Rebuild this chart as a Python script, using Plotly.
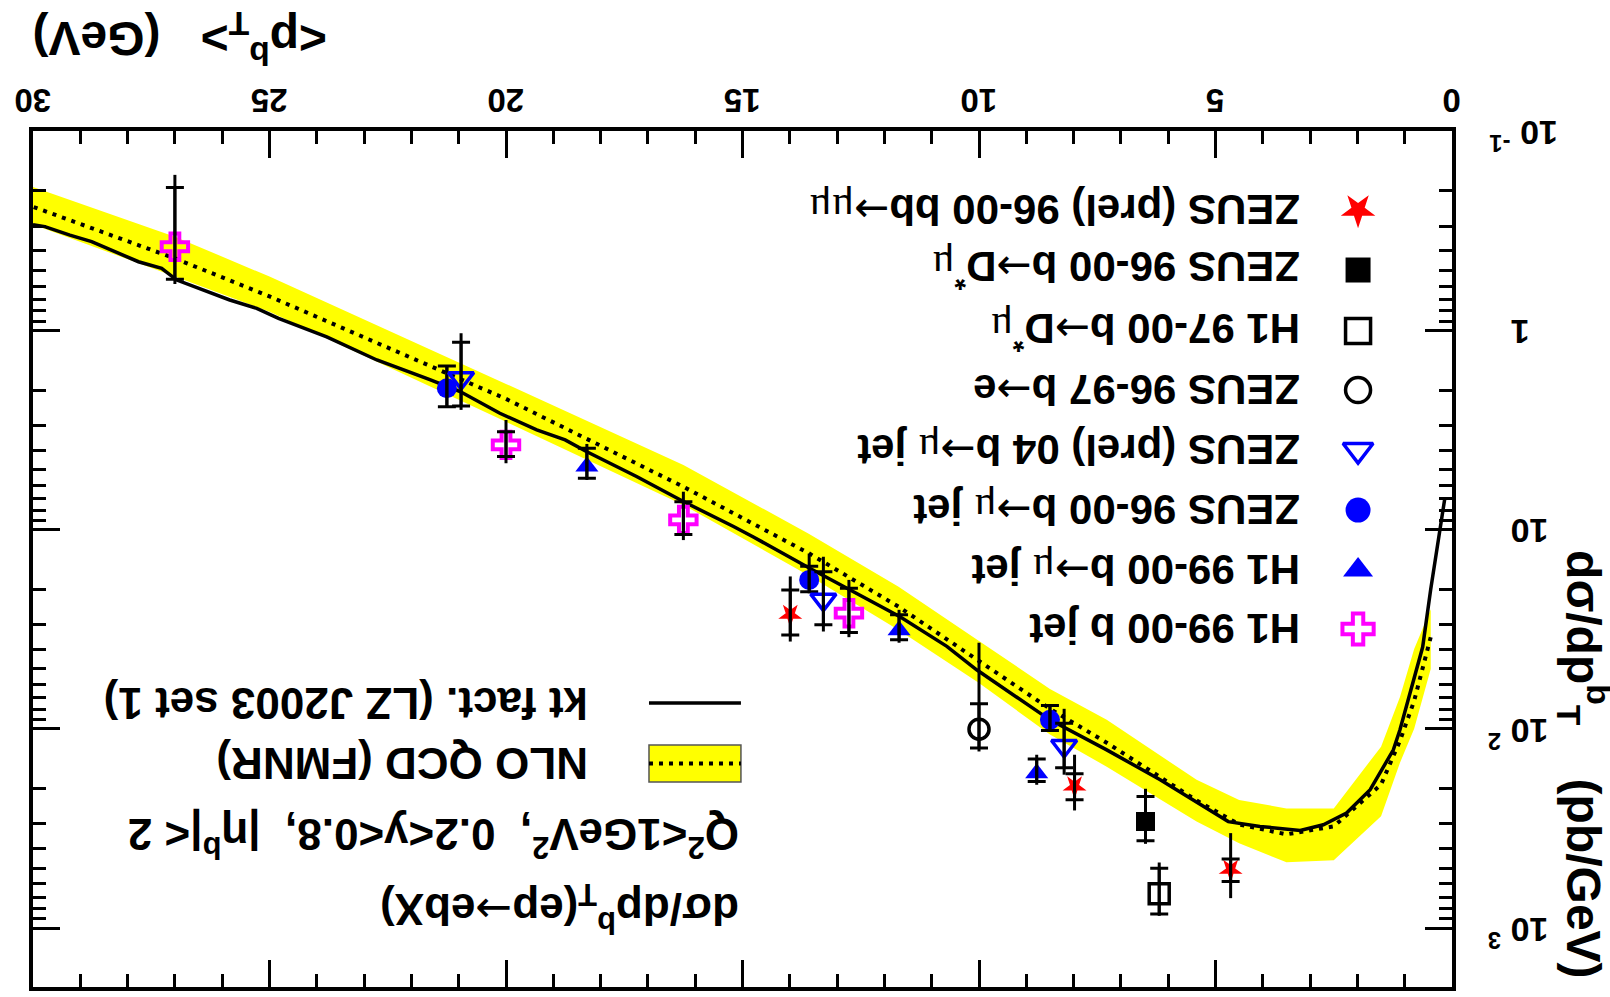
import plotly.graph_objects as go

# ---------------- data ----------------
# kt factorisation (LZ J2003 set 1) curve
kt_pt = [0.15, 0.45, 0.62, 1.1, 1.24, 1.73, 2.23, 2.72, 3.21, 4.06, 4.73, 6.17, 7.30, 8.50,
         10.05, 10.68, 11.67, 12.73, 13.57, 14.77, 15.19, 16.25, 17.24, 18.30, 18.75, 19.35,
         20.13, 20.97, 21.61, 22.73, 23.79, 24.81, 25.27, 25.84, 26.96, 27.28, 27.77, 28.76,
         29.22, 29.75, 30.0]
kt_val = [6.92, 19.95, 38.9, 101.2, 127.6, 202.3, 264.9, 303.4, 323.6, 309.0, 292.4, 180.3,
          127.6, 90.2, 50.6, 38.6, 27.4, 20.1, 15.7, 10.9, 9.66, 7.24, 5.42, 4.06, 3.55, 3.16,
          2.61, 2.03, 1.77, 1.41, 1.08, 0.871, 0.776, 0.705, 0.560, 0.489, 0.453, 0.359,
          0.333, 0.302, 0.295]

# NLO QCD (FMNR) central + uncertainty band
nlo_pt = [0.45, 0.8, 1.1, 1.5, 2.5, 3.5, 4.5, 5.4, 7.3, 8.5, 10.0, 11.7, 13.6, 16.25, 20.0,
          25.0, 27.0, 30.0]
nlo_c = [34.7, 72.4, 114.8, 190.5, 309, 338.8, 302, 229, 117.5, 79.4, 45.7, 24.4, 13.15,
         6.10, 2.21, 0.676, 0.436, 0.240]
nlo_lo = [25.1, 39.8, 69.2, 123, 251, 251, 227.5, 180.3, 90.2, 63.1, 36.3, 19.4, 10.5,
          4.74, 1.86, 0.538, 0.339, 0.191]
nlo_hi = [50.1, 100, 147.9, 275, 457, 468, 375, 292.4, 155, 107, 58.9, 31.9, 17.0,
          7.53, 2.88, 0.807, 0.537, 0.295]

# measurements: pT, value, stat low/high, total low/high
h1_bjet_pt = [27.0, 20.0, 16.25, 12.75]
h1_bjet_y = [0.381, 3.76, 8.95, 26.3]
h1_bjet_slo = [0.192, 3.23, 7.25, 19.7]
h1_bjet_shi = [0.554, 4.30, 10.6, 32.9]
h1_bjet_tlo = [0.166, 2.82, 6.46, 17.9]
h1_bjet_thi = [0.586, 4.65, 11.3, 34.7]

h1_mujet_pt = [18.29, 11.69, 8.78]
h1_mujet_y = [4.83, 32.0, 167]
h1_mujet_slo = [3.91, 26.8, 142]
h1_mujet_shi = [5.53, 35.8, 184]
h1_mujet_tlo = [3.72, 25.3, 135]
h1_mujet_thi = [5.64, 37.0, 191]

zeus_mujet_pt = [21.25, 13.59, 8.50]
zeus_mujet_y = [1.955, 17.9, 90.2]
zeus_mujet_slo = [1.51, 15.3, 76.4]
zeus_mujet_shi = [2.42, 20.5, 102]
zeus_mujet_tlo = [1.51, 13.2, 76.4]
zeus_mujet_thi = [2.42, 20.9, 102]

zeus04_pt = [20.95, 13.29, 8.20]
zeus04_y = [1.74, 22.5, 122]
zeus04_slo = [1.148, 16.3, 93.8]
zeus04_shi = [2.40, 30.1, 157]
zeus04_tlo = [1.035, 13.7, 79.4]
zeus04_thi = [2.51, 32.5, 170]

zeus_e_pt = [10.0]
zeus_e_y = [100.5]
zeus_e_slo = [75]
zeus_e_shi = [125]
zeus_e_tlo = [37]
zeus_e_thi = [130]

zeus_mumu_pt = [13.99, 7.98, 4.68]
zeus_mumu_y = [26.8, 195, 511]
zeus_mumu_slo = [20.1, 168, 451]
zeus_mumu_shi = [33.8, 227, 584]
zeus_mumu_tlo = [17.2, 135, 334]
zeus_mumu_thi = [36.5, 257, 708]

zeus_dst_pt = [6.48]
zeus_dst_y = [292]
zeus_dst_slo = [219]
zeus_dst_shi = [365]
zeus_dst_tlo = [200]
zeus_dst_thi = [378]

h1_dst_pt = [6.19]
h1_dst_y = [673]
h1_dst_slo = [501]
h1_dst_shi = [851]
h1_dst_tlo = [469]
h1_dst_thi = [869]

x_ticks = [0, 5, 10, 15, 20, 25, 30]
x_ticktext = ["&nbsp;0", "&nbsp;5", "10", "15", "20", "25", "30"]
y_ticks = [0.1, 1, 10, 100, 1000]
y_ticktext = ["10&nbsp;<sup>-1</sup>", "&nbsp;&nbsp;&nbsp;1", "&nbsp;10",
              "&nbsp;10&nbsp;<sup>2</sup>", "&nbsp;10&nbsp;<sup>3</sup>"]

MU = "<span style='font-family:Liberation Serif;font-weight:normal'>μ</span>"
ARR = "<span style='font-family:DejaVu Sans;font-weight:normal'>→</span>"
legend_labels = [
    "<b>ZEUS (prel) 96-00 bb</b>" + ARR + MU + MU,
    "<b>ZEUS 96-00 b</b>" + ARR + "<b>D<sup>*</sup></b>" + MU,
    "<b>H1 97-00 b</b>" + ARR + "<b>D<sup>*</sup></b>" + MU,
    "<b>ZEUS 96-97 b</b>" + ARR + "<b>e</b>",
    "<b>ZEUS (prel) 04 b</b>" + ARR + MU + " <b>jet</b>",
    "<b>ZEUS 96-00 b</b>" + ARR + MU + " <b>jet</b>",
    "<b>H1 99-00 b</b>" + ARR + MU + " <b>jet</b>",
    "<b>H1 99-00 b jet</b>",
]

# ---------------- figure ----------------
FONT = "Liberation Sans, Arial, Helvetica, sans-serif"
fig = go.Figure()

# NLO band
fig.add_trace(go.Scatter(x=nlo_pt, y=nlo_lo, mode="lines", line=dict(width=0),
                         hoverinfo="skip", showlegend=False))
fig.add_trace(go.Scatter(x=nlo_pt, y=nlo_hi, mode="lines", line=dict(width=0),
                         fill="tonexty", fillcolor="#ffff00", showlegend=False))
# NLO central dotted
fig.add_trace(go.Scatter(x=nlo_pt, y=nlo_c, mode="lines",
                         line=dict(color="black", width=4, dash="4px,6px"), showlegend=False))
# kt fact. solid
fig.add_trace(go.Scatter(x=kt_pt, y=kt_val, mode="lines",
                         line=dict(color="black", width=3.5), showlegend=False))

datasets = [
    (h1_bjet_pt, h1_bjet_y, h1_bjet_slo, h1_bjet_shi, h1_bjet_tlo, h1_bjet_thi,
     dict(symbol="cross-open", color="#ff00ff", size=22, line=dict(color="#ff00ff", width=4))),
    (h1_mujet_pt, h1_mujet_y, h1_mujet_slo, h1_mujet_shi, h1_mujet_tlo, h1_mujet_thi,
     dict(symbol="triangle-up", color="#0000ff", size=20, line=dict(width=0))),
    (zeus_mujet_pt, zeus_mujet_y, zeus_mujet_slo, zeus_mujet_shi, zeus_mujet_tlo, zeus_mujet_thi,
     dict(symbol="circle", color="#0000ff", size=20, line=dict(width=0))),
    (zeus04_pt, zeus04_y, zeus04_slo, zeus04_shi, zeus04_tlo, zeus04_thi,
     dict(symbol="triangle-down-open", color="#0000ff", size=22, line=dict(color="#0000ff", width=3.5))),
    (zeus_e_pt, zeus_e_y, zeus_e_slo, zeus_e_shi, zeus_e_tlo, zeus_e_thi,
     dict(symbol="circle-open", color="black", size=20, line=dict(color="black", width=3.5))),
    (zeus_mumu_pt, zeus_mumu_y, zeus_mumu_slo, zeus_mumu_shi, zeus_mumu_tlo, zeus_mumu_thi,
     dict(symbol="star", angle=180, color="#ff0000", size=18, line=dict(width=0))),
    (zeus_dst_pt, zeus_dst_y, zeus_dst_slo, zeus_dst_shi, zeus_dst_tlo, zeus_dst_thi,
     dict(symbol="square", color="black", size=19, line=dict(width=0))),
    (h1_dst_pt, h1_dst_y, h1_dst_slo, h1_dst_shi, h1_dst_tlo, h1_dst_thi,
     dict(symbol="square-open", color="black", size=20, line=dict(color="black", width=3.5))),
]

for pt, y, slo, shi, tlo, thi, mk in datasets:
    fig.add_trace(go.Scatter(x=pt, y=y, mode="markers", marker=mk, showlegend=False))
    fig.add_trace(go.Scatter(
        x=pt, y=y, mode="markers", marker=dict(size=1, color="rgba(0,0,0,0)"),
        error_y=dict(type="data", symmetric=False,
                     array=[h - v for h, v in zip(thi, y)],
                     arrayminus=[v - l for l, v in zip(tlo, y)],
                     color="black", thickness=3, width=0),
        showlegend=False))
    fig.add_trace(go.Scatter(
        x=pt, y=y, mode="markers", marker=dict(size=1, color="rgba(0,0,0,0)"),
        error_y=dict(type="data", symmetric=False,
                     array=[h - v for h, v in zip(shi, y)],
                     arrayminus=[v - l for l, v in zip(slo, y)],
                     color="black", thickness=3, width=9),
        showlegend=False))

# ---------------- hand-made legend (rotated chart) ----------------
leg_rows_y = [0.9077, 0.8376, 0.7664, 0.6974, 0.6273, 0.5572, 0.4871, 0.4182]
leg_markers = [
    dict(symbol="star", angle=180, color="#ff0000", size=26, line=dict(width=0)),
    dict(symbol="square", color="black", size=25, line=dict(width=0)),
    dict(symbol="square-open", color="black", size=25, line=dict(color="black", width=3.5)),
    dict(symbol="circle-open", color="black", size=25, line=dict(color="black", width=3.5)),
    dict(symbol="triangle-down-open", color="#0000ff", size=26, line=dict(color="#0000ff", width=3.5)),
    dict(symbol="circle", color="#0000ff", size=25, line=dict(width=0)),
    dict(symbol="triangle-up", color="#0000ff", size=26, line=dict(width=0)),
    dict(symbol="cross-open", color="#ff00ff", size=26, line=dict(color="#ff00ff", width=4)),
]
for yy, mk in zip(leg_rows_y, leg_markers):
    fig.add_trace(go.Scatter(x=[0.9338], y=[yy], mode="markers", marker=mk,
                             xaxis="x2", yaxis="y2", showlegend=False, hoverinfo="skip"))

annotations = []
for yy, lab in zip(leg_rows_y, legend_labels):
    annotations.append(dict(xref="paper", yref="paper", x=0.8943, y=yy, text=lab,
                            textangle=180, xanchor="right", yanchor="middle", showarrow=False,
                            font=dict(family=FONT, size=42, color="black")))

# left block texts
annotations += [
    dict(xref="paper", yref="paper", x=0.3925, y=0.3318,
         text="<b>kt fact. (LZ J2003 set 1)</b>", textangle=180, xanchor="right",
         yanchor="middle", showarrow=False, font=dict(family=FONT, size=44, color="black")),
    dict(xref="paper", yref="paper", x=0.3925, y=0.2617,
         text="<b>NLO QCD (FMNR)</b>", textangle=180, xanchor="right",
         yanchor="middle", showarrow=False, font=dict(family=FONT, size=44, color="black")),
    dict(xref="paper", yref="paper", x=0.4989, y=0.1752,
         text="<b>Q<sup>2</sup>&lt;1GeV<sup>2</sup>,  0.2&lt;y&lt;0.8,  |η<sup>b</sup>|&lt; 2</b>",
         textangle=180, xanchor="right", yanchor="middle", showarrow=False,
         font=dict(family=FONT, size=44, color="black")),
    dict(xref="paper", yref="paper", x=0.4989, y=0.0911,
         text="<b>dσ/dp<sup>b</sup><sub>T</sub>(ep</b>" + ARR + "<b>ebX)</b>",
         textangle=180, xanchor="right", yanchor="middle", showarrow=False,
         font=dict(family=FONT, size=44, color="black")),
    # axis titles
    dict(xref="paper", yref="paper", x=-0.0014, y=1.108,
         text="<b>&lt;p<sup>b</sup><sub>T</sub>&gt;   (GeV)</b>", textangle=180,
         xanchor="left", yanchor="middle", showarrow=False,
         font=dict(family=FONT, size=48, color="black")),
    dict(xref="paper", yref="paper", x=1.0930, y=0.2593,
         text="<b>dσ/dp<sup>b</sup><sub>T</sub>    (pb/GeV)</b>", textangle=90,
         xanchor="center", yanchor="middle", showarrow=False,
         font=dict(family=FONT, size=48, color="black")),
]

shapes = [
    dict(type="line", xref="paper", yref="paper", x0=0.4341, x1=0.4989, y0=0.3318, y1=0.3318,
         line=dict(color="black", width=3.5)),
    dict(type="rect", xref="paper", yref="paper", x0=0.4341, x1=0.4989, y0=0.2395, y1=0.2827,
         fillcolor="#ffff00", line=dict(color="#555555", width=1.5)),
    dict(type="line", xref="paper", yref="paper", x0=0.4341, x1=0.4989, y0=0.2611, y1=0.2611,
         line=dict(color="black", width=4, dash="4px,6px")),
]

minor_x = [v for v in range(1, 30) if v % 5 != 0]
minor_y = [m * 10 ** e for e in (-1, 0, 1, 2) for m in range(2, 10)]

fig.update_layout(
    width=1610, height=997,
    margin=dict(l=33, r=158, t=131, b=10, autoexpand=False),
    paper_bgcolor="white", plot_bgcolor="white",
    showlegend=False,
    annotations=annotations,
    shapes=shapes,
    xaxis=dict(range=[30, 0], side="top", tickmode="array", tickvals=x_ticks,
               ticktext=x_ticktext, ticklabelshift=-18, ticklabelstandoff=-8,
               ticklabeloverflow="allow", automargin=False,
               ticks="inside", ticklen=27, tickwidth=3, tickcolor="black",
               showline=True, linewidth=4, linecolor="black", mirror="ticks",
               showgrid=False, zeroline=False, tickangle=180,
               tickfont=dict(family=FONT, size=33, color="black", weight="bold"),
               minor=dict(tickmode="array", tickvals=minor_x, ticks="inside", ticklen=13,
                          tickwidth=3, tickcolor="black", showgrid=False)),
    yaxis=dict(type="log", range=[3.296, -1], side="right", tickmode="array",
               tickvals=y_ticks, ticktext=y_ticktext, ticklabelstandoff=95,
               ticklabelshift=-12, ticklabeloverflow="allow", automargin=False,
               ticks="inside", ticklen=27, tickwidth=3, tickcolor="black",
               showline=True, linewidth=4, linecolor="black", mirror="ticks",
               showgrid=False, zeroline=False, tickangle=180,
               tickfont=dict(family=FONT, size=34, color="black", weight="bold"),
               minor=dict(tickmode="array", tickvals=minor_y, ticks="inside", ticklen=13,
                          tickwidth=3, tickcolor="black", showgrid=False)),
    xaxis2=dict(range=[0, 1], domain=[0, 1], visible=False, overlaying="x", anchor="y2"),
    yaxis2=dict(range=[0, 1], domain=[0, 1], visible=False, overlaying="y", anchor="x2"),
)

fig.write_html("out.html")
